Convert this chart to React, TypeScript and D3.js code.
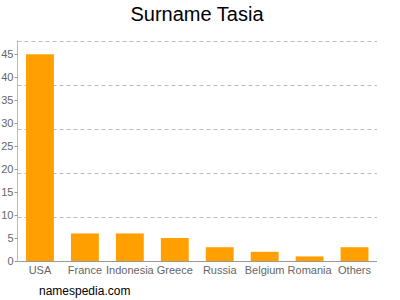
import React from "react";
import * as d3 from "d3";

const categories = ["USA", "France", "Indonesia", "Greece", "Russia", "Belgium", "Romania", "Others"];
const values = [45, 6, 6, 5, 3, 2, 1, 3];
const yTicks = [0, 5, 10, 15, 20, 25, 30, 35, 40, 45];
const gridValues = [9.6, 19.2, 28.8, 38.4, 48];
const title = "Surname Tasia";
const credit = "namespedia.com";

export default function App() {
  const width = 400;
  const height = 300;
  const left = 17.5;
  const right = 377;
  const top = 40.5;
  const bottom = 261;

  const x = d3.scaleBand<string>().domain(categories).range([left, right]).paddingInner(0.38).paddingOuter(0.19);
  const y = d3.scaleLinear().domain([0, 48]).range([bottom, top]);
  const font = "'Liberation Sans', Arial, sans-serif";

  return (
    <svg width={width} height={height} style={{ position: "absolute", left: 0, top: 0 }}>
      <rect x={0} y={0} width={width} height={height} fill="#fff" />
      <text x={197} y={21} textAnchor="middle" fontFamily={font} fontSize={20} fill="#000">{title}</text>
      {gridValues.map((g) => (
        <line key={g} x1={left} x2={right} y1={Math.round(y(g)) + 0.5} y2={Math.round(y(g)) + 0.5} stroke="#bbb" strokeDasharray="4,3" />
      ))}
      {categories.map((c, i) => (
        <rect key={c} x={x(c)!} y={y(values[i])} width={x.bandwidth()} height={bottom - y(values[i])} fill="#ffa000" />
      ))}
      <line x1={left} x2={left} y1={top} y2={bottom} stroke="#bbb" />
      <line x1={left} x2={right} y1={bottom + 0.5} y2={bottom + 0.5} stroke="#999" />
      {yTicks.map((t) => (
        <g key={t}>
          <line x1={left - 3} x2={left} y1={Math.round(y(t)) + 0.5} y2={Math.round(y(t)) + 0.5} stroke="#999" />
          <text x={left - 4} y={y(t)} dy="0.35em" textAnchor="end" fontFamily={font} fontSize={11} fill="#666">{t}</text>
        </g>
      ))}
      {categories.map((c) => (
        <text key={c} x={x(c)! + x.bandwidth() / 2} y={274} textAnchor="middle" fontFamily={font} fontSize={11} fill="#666">{c}</text>
      ))}
      <text x={39} y={295} fontFamily={font} fontSize={12} fill="#000">{credit}</text>
    </svg>
  );
}
